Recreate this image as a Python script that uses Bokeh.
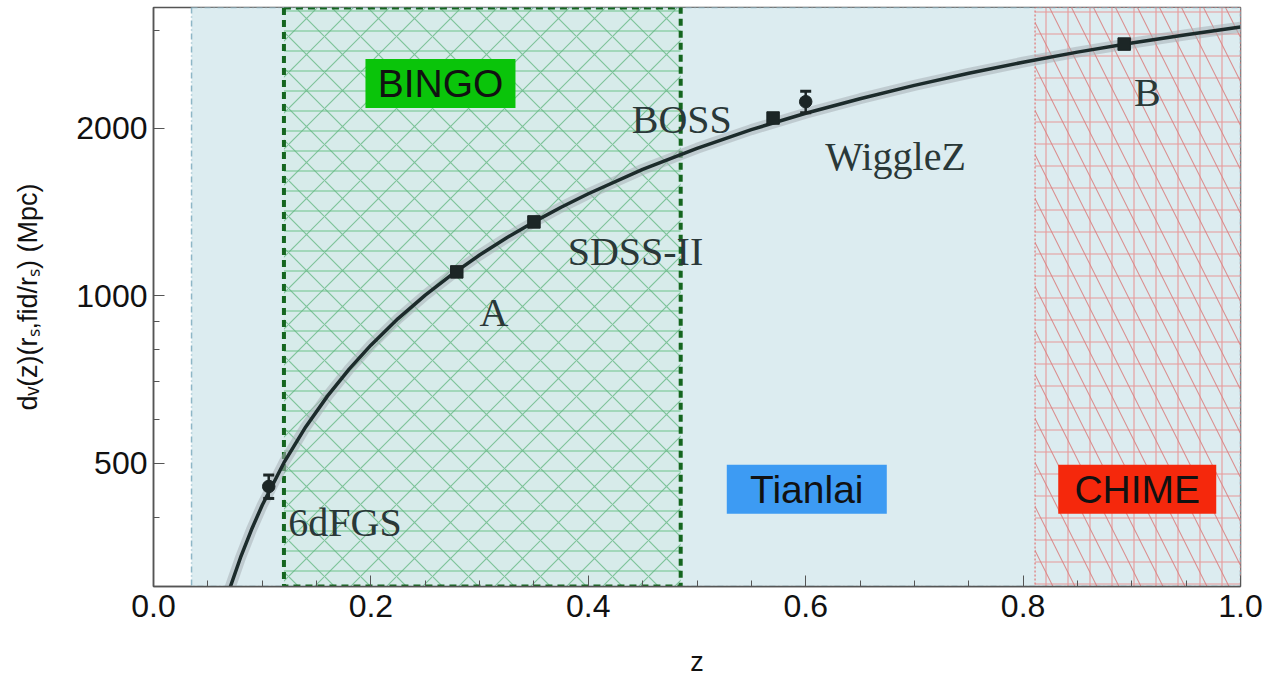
from bokeh.plotting import figure
from bokeh.models import Range1d, FixedTicker, Label, ColumnDataSource
from bokeh.embed import file_html
from bokeh.resources import INLINE

# ---------------- data ----------------
z_curve = [0.07, 0.08, 0.09, 0.10, 0.12, 0.14, 0.16, 0.18, 0.20, 0.225, 0.25,
           0.275, 0.30, 0.325, 0.35, 0.375, 0.40, 0.45, 0.50, 0.55, 0.60,
           0.65, 0.70, 0.75, 0.80, 0.85, 0.90, 0.95, 1.00]
dv_curve = [297, 338, 379, 420, 501, 581, 660, 738, 815, 910, 1003,
            1094, 1184, 1272, 1358, 1443, 1526, 1688, 1842, 1990, 2130,
            2262, 2390, 2513, 2631, 2743, 2848, 2948, 3043]

pt_names = ["6dFGS", "A", "SDSS-II", "BOSS", "WiggleZ", "B"]
pt_z = [0.106, 0.279, 0.35, 0.57, 0.60, 0.893]
pt_dv = [454, 1104, 1358, 2088, 2234, 2836]
pt_err = [22, 0, 0, 0, 99, 0]
pt_marker = ["circle", "square", "square", "square", "circle", "square"]

# label anchors (left, baseline) in data coordinates
lab_z = [0.124, 0.300, 0.381, 0.440, 0.618, 0.902]
lab_dv = [391, 935, 1199, 2074, 1779, 2320]

region_names = ["Tianlai", "BINGO", "CHIME"]
region_zmin = [0.035, 0.12, 0.811]
region_zmax = [1.0, 0.485, 1.0]
region_colors = ["#3d9bf3", "#0ac40a", "#f5280c"]
region_lab_z = [0.601, 0.264, 0.905]
region_lab_dv = [449, 2408, 449]

x_ticks = [0.0, 0.2, 0.4, 0.6, 0.8, 1.0]
x_tick_labels = ["0.0", "0.2", "0.4", "0.6", "0.8", "1.0"]
x_minor = [0.05, 0.10, 0.15, 0.25, 0.30, 0.35, 0.45, 0.50, 0.55, 0.65, 0.70,
           0.75, 0.85, 0.90, 0.95]
y_ticks = [500, 1000, 2000]
y_tick_labels = ["500", "1000", "2000"]
y_minor = [300, 400, 600, 700, 800, 900, 3000]
y_lo, y_hi = 300, 3300

SANS = "Liberation Sans"
SERIF = "Liberation Serif"
AX = "#555555"
INK = "#1c2626"

p = figure(frame_width=1087, frame_height=579, y_axis_type="log",
           x_range=Range1d(0, 1), y_range=Range1d(y_lo, y_hi),
           output_backend="svg", toolbar_location=None,
           min_border_left=153, min_border_top=7, min_border_right=30,
           min_border_bottom=84, background_fill_color="white",
           border_fill_color="white", outline_line_color=AX,
           outline_line_width=1.5)
p.grid.visible = False

# ---------------- regions ----------------
tz0, tz1 = region_zmin[0], region_zmax[0]
p.quad(left=[tz0], right=[tz1], bottom=[y_lo], top=[y_hi],
       fill_color="#dcecf0", line_color="#8db6c6", line_width=1.5,
       line_dash="6 3 1 3")

bz0, bz1 = region_zmin[1], region_zmax[1]
p.quad(left=[bz0], right=[bz1], bottom=[y_lo], top=[y_hi],
       fill_color="#bfe8c8", fill_alpha=0.15, line_color=None,
       hatch_pattern="horizontal_line", hatch_scale=20, hatch_weight=1.2,
       hatch_color="#62bf80", hatch_alpha=0.75)
p.quad(left=[bz0], right=[bz1], bottom=[y_lo], top=[y_hi],
       fill_color=None, line_color=None,
       hatch_pattern="diagonal_cross", hatch_scale=36, hatch_weight=1.2,
       hatch_color="#62b580", hatch_alpha=0.75)

cz0, cz1 = region_zmin[2], region_zmax[2]
p.quad(left=[cz0], right=[cz1], bottom=[y_lo], top=[y_hi],
       fill_color=None, line_color=None,
       hatch_pattern="cross", hatch_scale=22, hatch_weight=1.1,
       hatch_color="#e98a8a", hatch_alpha=0.85)
p.quad(left=[cz0], right=[cz1], bottom=[y_lo], top=[y_hi],
       fill_color=None, line_color="#e07474", line_width=1.2, line_dash="2 2",
       hatch_pattern="left_diagonal_line", hatch_scale=44, hatch_weight=1.1,
       hatch_color="#d98080", hatch_alpha=0.85)

# BINGO border on top of hatch
p.quad(left=[bz0], right=[bz1], bottom=[y_lo], top=[y_hi],
       fill_color=None, line_color="#15661f", line_width=4, line_dash="7 5")

# ---------------- curve ----------------
p.line(z_curve, dv_curve, line_color="#a7b1b7", line_width=11, line_alpha=0.55)
p.line(z_curve, dv_curve, line_color="#1c2b2b", line_width=3.5)

# ---------------- data points ----------------
eb_z = [z for z, e in zip(pt_z, pt_err) if e > 0]
eb_up = [d + e for d, e in zip(pt_dv, pt_err) if e > 0]
eb_lo = [d - e for d, e in zip(pt_dv, pt_err) if e > 0]
p.segment(x0=eb_z, y0=eb_lo, x1=eb_z, y1=eb_up, line_color=INK, line_width=2.5)
p.scatter(eb_z + eb_z, eb_up + eb_lo, marker="dash", size=11,
          line_color=INK, line_width=3)

src = ColumnDataSource(dict(z=pt_z, dv=pt_dv, marker=pt_marker))
p.scatter("z", "dv", source=src, marker="marker", size=12.5,
          fill_color=INK, line_color=INK)

for name, lz, ld in zip(pt_names, lab_z, lab_dv):
    p.add_layout(Label(x=lz, y=ld, text=name, text_font=SERIF,
                       text_font_size="40px", text_color="#2a3838",
                       text_align="left", text_baseline="alphabetic"))

# label boxes (screen-sized) and texts
box_w = {"Tianlai": 160, "BINGO": 150, "CHIME": 158}
p.rect(x=region_lab_z, y=region_lab_dv,
       width=[box_w[n] for n in region_names], height=49,
       width_units="screen", height_units="screen",
       fill_color=region_colors, line_color=None)
for name, lz, ld in zip(region_names, region_lab_z, region_lab_dv):
    p.add_layout(Label(x=lz, y=ld, text=name, text_font=SANS,
                       text_font_size="39px", text_color="#111111",
                       text_align="center", text_baseline="middle"))

# ---------------- axes ----------------
xa = p.xaxis[0]
xa.ticker = FixedTicker(ticks=x_ticks, minor_ticks=x_minor)
xa.major_label_overrides = dict(zip(x_ticks, x_tick_labels))
xa.axis_label = "z"
ya = p.yaxis[0]
ya.ticker = FixedTicker(ticks=y_ticks, minor_ticks=y_minor)
ya.major_label_overrides = dict(zip(y_ticks, y_tick_labels))
ya.axis_label = "dᵥ(z)(rₛ,fid/rₛ) (Mpc)"

for ax in (xa, ya):
    ax.axis_line_color = AX
    ax.axis_line_width = 1.5
    ax.major_tick_line_color = AX
    ax.minor_tick_line_color = AX
    ax.major_tick_in = 11
    ax.major_tick_out = 0
    ax.minor_tick_in = 6
    ax.minor_tick_out = 0
    ax.major_label_text_font = SANS
    ax.major_label_text_font_size = "32px"
    ax.major_label_text_color = "#111111"
    ax.axis_label_text_font = SANS
    ax.axis_label_text_font_size = "27px"
    ax.axis_label_text_font_style = "normal"
    ax.axis_label_text_color = "#111111"
ya.major_label_standoff = 6
ya.axis_label_standoff = 30
xa.major_label_standoff = 8
xa.axis_label_standoff = 27

open("out.html", "w").write(file_html(p, INLINE))
